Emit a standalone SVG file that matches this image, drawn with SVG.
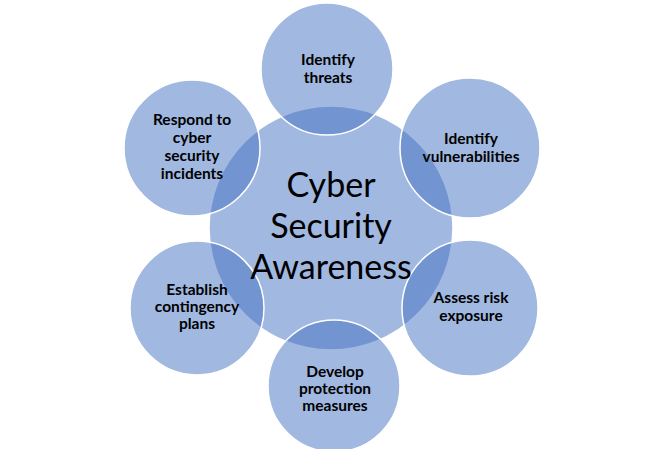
<svg xmlns="http://www.w3.org/2000/svg" width="666" height="449" viewBox="0 0 666 449">
<style>
.c{fill:#4472C4;fill-opacity:0.5;stroke:#FFFFFF;stroke-width:1.5}
.l{font-family:Lato,"Open Sans","DejaVu Sans",sans-serif;font-weight:bold;font-size:15.5px;fill:#000;text-anchor:middle}
.m{font-family:Lato,"Open Sans","DejaVu Sans",sans-serif;font-size:34px;fill:#000;text-anchor:middle}
</style>
<rect width="666" height="449" fill="#FFFFFF"/>
<g id="center"><circle class="c" cx="331" cy="228" r="122"/></g>
<g id="identify-threats"><circle class="c" cx="327" cy="69" r="66"/>
<text class="l" x="328" y="65">Identify</text><text class="l" x="328" y="83">threats</text></g>
<g id="identify-vulnerabilities"><circle class="c" cx="470" cy="148" r="70"/>
<text class="l" x="471" y="144">Identify</text><text class="l" x="471" y="162">vulnerabilities</text></g>
<g id="assess-risk"><circle class="c" cx="470" cy="308" r="68"/>
<text class="l" x="471" y="303">Assess risk</text><text class="l" x="471" y="321">exposure</text></g>
<g id="develop-protection"><circle class="c" cx="334" cy="386" r="66"/>
<text class="l" x="335" y="377">Develop</text><text class="l" x="335" y="394">protection</text><text class="l" x="335" y="411">measures</text></g>
<g id="establish-contingency"><circle class="c" cx="197" cy="308" r="67"/>
<text class="l" x="197" y="295">Establish</text><text class="l" x="197" y="312">contingency</text><text class="l" x="197" y="329">plans</text></g>
<g id="respond-incidents"><circle class="c" cx="192" cy="148" r="68"/>
<text class="l" x="192" y="125">Respond to</text><text class="l" x="192" y="143">cyber</text><text class="l" x="192" y="161">security</text><text class="l" x="192" y="179">incidents</text></g>
<g id="center-label">
<text class="m" x="331" y="197">Cyber</text><text class="m" x="331" y="238">Security</text><text class="m" x="331" y="279">Awareness</text></g>
<g id="connectors"/>
</svg>
